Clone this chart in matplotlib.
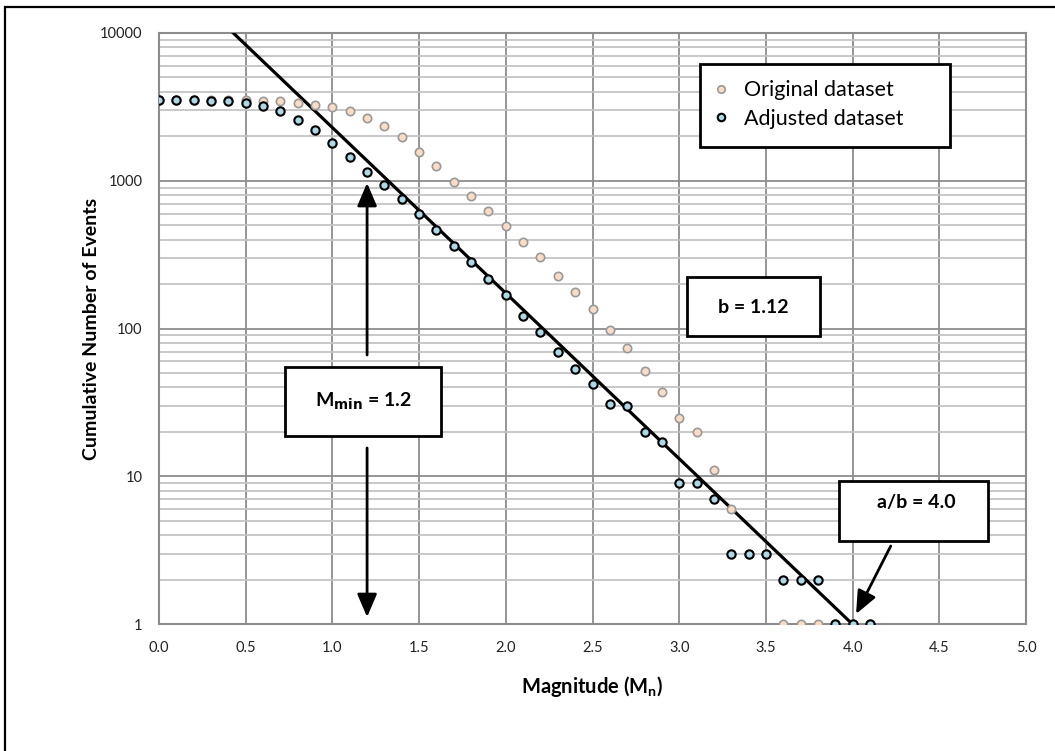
import numpy as np
import matplotlib
matplotlib.use('Agg')
import matplotlib.pyplot as plt
from matplotlib.patches import Rectangle

plt.rcParams['font.family'] = ['Lato', 'DejaVu Sans']
plt.rcParams['mathtext.default'] = 'regular'

# magnitude bins
magnitude = [0.0, 0.1, 0.2, 0.3, 0.4, 0.5, 0.6, 0.7, 0.8, 0.9,
             1.0, 1.1, 1.2, 1.3, 1.4, 1.5, 1.6, 1.7, 1.8, 1.9,
             2.0, 2.1, 2.2, 2.3, 2.4, 2.5, 2.6, 2.7, 2.8, 2.9,
             3.0, 3.1, 3.2, 3.3, 3.4, 3.5, 3.6, 3.7, 3.8, 3.9,
             4.0, 4.1]

# cumulative counts
original = [3530, 3530, 3520, 3510, 3500, 3495, 3490, 3455, 3383, 3264,
            3165, 2985, 2677, 2340, 1983, 1570, 1262, 984, 790, 625,
            494, 385, 304, 228, 177, 136, 97.5, 74, 52, 37,
            25, 20, 11, 6, 3, 3, 1, 1, 1, 1,
            1, 1]
adjusted = [3530, 3520, 3500, 3480, 3450, 3350, 3213, 2972, 2594, 2218,
            1805, 1458, 1153, 938, 755, 598, 466, 363, 284, 217,
            170, 122, 95.5, 69, 53, 42, 31, 30, 20, 17,
            9, 9, 7, 3, 3, 3, 2, 2, 2, 1,
            1, 1]

# Gutenberg-Richter fit
b_value = 1.12
a_over_b = 4.0
m_min = 1.2
fit_m = np.array([0.0, a_over_b])
fit_n = 10 ** (b_value * (a_over_b - fit_m))

x_ticks = [0.0, 0.5, 1.0, 1.5, 2.0, 2.5, 3.0, 3.5, 4.0, 4.5, 5.0]
y_ticks = [1, 10, 100, 1000, 10000]

fig = plt.figure(figsize=(10.55, 7.51), dpi=100)
ax = fig.add_axes([159 / 1055, 1 - 624.3 / 751, 867 / 1055, 591.3 / 751])

ax.set_yscale('log')
ax.set_xlim(0, 5)
ax.set_ylim(1, 10000)

# grid
ax.set_xticks(x_ticks)
ax.set_xticklabels(['%.1f' % t for t in x_ticks])
ax.set_yticks(y_ticks)
ax.set_yticklabels([str(t) for t in y_ticks])
ax.yaxis.set_minor_locator(matplotlib.ticker.LogLocator(base=10, subs=np.arange(2, 10)))
ax.yaxis.set_minor_formatter(matplotlib.ticker.NullFormatter())
ax.grid(True, which='major', color='#8c8c8c', lw=1.3)
ax.grid(True, which='minor', axis='y', color='#c4c4c4', lw=1.3)
ax.set_axisbelow(True)
for s in ax.spines.values():
    s.set_color('#8c8c8c')
    s.set_linewidth(1.5)
ax.tick_params(which='both', length=0)
ax.tick_params(axis='x', pad=12, labelsize=10.5, labelcolor='#222222')
ax.tick_params(axis='y', pad=12, labelsize=10.5, labelcolor='#222222')

# data
ax.plot(fit_m, fit_n, color='black', lw=2.3, zorder=3)
ax.plot(magnitude, original, 'o', ms=6, mfc='#f9dcc6', mec='#999999', mew=1.2,
        zorder=4, label='Original dataset')
ax.plot(magnitude, adjusted, 'o', ms=6, mfc='#add8e6', mec='black', mew=1.5,
        zorder=5, label='Adjusted dataset')

ax.set_xlabel(r'Magnitude (M$_{n}$)', fontsize=14.5, fontweight='bold', labelpad=14)
ax.set_ylabel('Cumulative Number of Events', fontsize=14, fontweight='bold', labelpad=0)

# legend with a square black box
ax.add_patch(Rectangle((0.624, 0.807), 0.288, 0.141, transform=ax.transAxes,
                       fc='white', ec='black', lw=2, zorder=6))
ax.legend(loc='center left', bbox_to_anchor=(0.623, 0.879), frameon=False,
          borderpad=0, handlelength=1.0, handletextpad=0.6, labelspacing=0.4,
          markerscale=0.9, fontsize=15.5).set_zorder(7)


def text_box(x0, y0, w, h, tx, ty, s):
    ax.add_patch(Rectangle((x0, y0), w, h, transform=ax.transAxes,
                           fc='white', ec='black', lw=2, zorder=6))
    ax.text(tx, ty, s, transform=ax.transAxes, ha='center', va='center',
            fontsize=14, fontweight='bold', zorder=7)


text_box(0.609, 0.4876, 0.153, 0.0998, 0.685, 0.535, 'b = %.2f' % b_value)
text_box(0.145, 0.3184, 0.180, 0.1167, 0.236, 0.3793,
         r'M$_{\mathbf{min}}$ = %.1f' % m_min)
text_box(0.784, 0.1409, 0.172, 0.1014, 0.874, 0.2068, 'a/b = %.1f' % a_over_b)

# arrows
arrow = dict(arrowstyle='-|>,head_length=0.7,head_width=0.3', color='black',
             lw=2, mutation_scale=20, shrinkA=0, shrinkB=0)
ax.annotate('', xy=(m_min, 0.7463), xytext=(m_min, 0.4554),
            xycoords=('data', 'axes fraction'), textcoords=('data', 'axes fraction'),
            arrowprops=arrow, zorder=6)
ax.annotate('', xy=(m_min, 0.0123), xytext=(m_min, 0.2982),
            xycoords=('data', 'axes fraction'), textcoords=('data', 'axes fraction'),
            arrowprops=arrow, zorder=6)
ax.annotate('', xy=(0.804, 0.0174), xytext=(0.844, 0.1324),
            xycoords='axes fraction', textcoords='axes fraction',
            arrowprops=arrow, zorder=6)

# outer frame
fig.add_artist(Rectangle((5 / 1055, -0.1), 1.2, 1.1 - 7 / 751, transform=fig.transFigure,
                         fill=False, ec='black', lw=1.6))

fig.savefig('out.png', dpi=100)
